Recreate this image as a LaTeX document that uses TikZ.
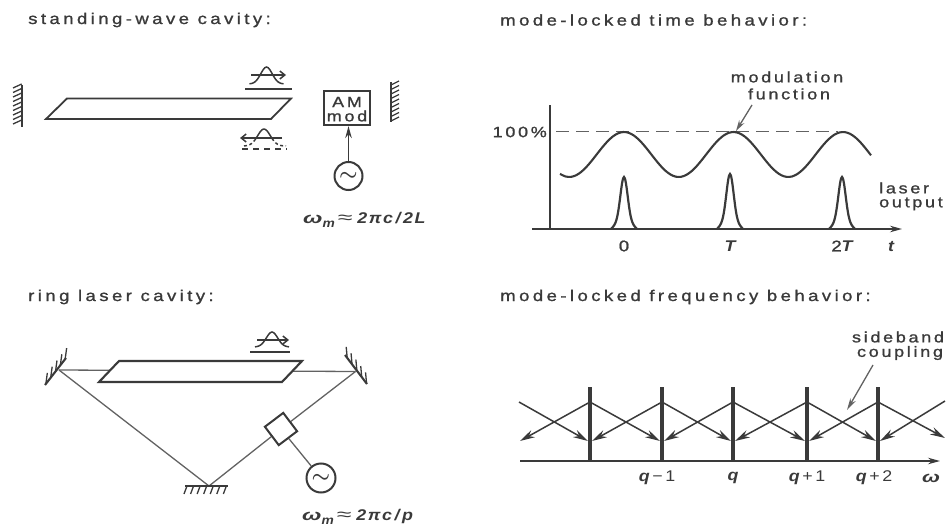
\documentclass[tikz,border=0pt]{standalone}
\usepackage{fontspec}
\usepackage{graphicx}
\usetikzlibrary{arrows.meta,calc}
\setmainfont{Liberation Sans}
\newfontfamily\titlefont[LetterSpace=22,FakeStretch=1.2,FakeBold=1.2]{Liberation Sans}
\newfontfamily\labfont[LetterSpace=18,FakeStretch=1.2,FakeBold=1.2]{Liberation Sans}
\newfontfamily\mathfont[LetterSpace=10,FakeStretch=1.15]{Liberation Sans}
\definecolor{ink}{HTML}{3A3A3A}
\definecolor{thinink}{HTML}{626262}
\newcommand{\omegam}{\scalebox{1.3}[1]{ω}\raisebox{-4pt}{\fontsize{12}{12}\selectfont m}\hspace{3pt}{\mdseries\upshape\scalebox{1.5}[1.1]{≈}}\hspace{5pt}}
\tikzset{
  titletext/.style={anchor=west,inner sep=0pt,font=\titlefont\fontsize{15.5}{16}\selectfont,text=ink},
  labeltext/.style={inner sep=0pt,font=\labfont\fontsize{15}{15}\selectfont,text=ink},
  mathtext/.style={inner sep=0pt,font=\mathfont\bfseries\itshape\fontsize{15.5}{16}\selectfont,text=ink},
  thickline/.style={draw=ink,line width=2.1pt,line join=miter},
  midline/.style={draw=ink,line width=1.5pt},
  thinline/.style={draw=thinink,line width=1.3pt},
  tipped/.style={-{Stealth[length=12pt,width=6.5pt]}},
  smalltip/.style={-{Straight Barb[length=5pt,width=8pt]}},
  hatch/.style={draw=ink,line width=1.3pt},
  srcbox/.style={circle,draw=ink,line width=2pt,minimum size=28pt,inner sep=0pt,font=\boldmath\fontsize{21}{21}\selectfont,text=ink},
}
\begin{document}
\begin{tikzpicture}[x=1pt,y=-1pt]
\useasboundingbox (0,0) rectangle (952,529);
% titles
\node[titletext] (t1) at (28,20) {standing-wave cavity:};
\node[titletext] (t2) at (500,20) {mode-locked time behavior:};
\node[titletext] (t3) at (28,297) {ring laser cavity:};
\node[titletext] (t4) at (500,297) {mode-locked frequency behavior:};

% --- standing wave cavity
\draw[thickline] (21.7,85) -- (21.7,127);
\foreach \y in {88,92.5,...,128} \draw[hatch] (21.7,\y-4) -- (13,\y);
\draw[thickline] (391,82) -- (391,122);
\foreach \y in {85,89.5,...,122} \draw[hatch] (391,\y) -- (399,\y-4);
\draw[thickline,line width=1.8pt] (67,98.5) -- (291,98.5) -- (271,119) -- (46,119) -- cycle;
% upper pulse
\draw[midline] (245,89) -- (292,89);
\draw[midline] plot[smooth,domain=-1:1,samples=21] ({266.5+17*\x},{84-17*exp(-4.5*\x*\x)});
\draw[midline,smalltip] (251,75) -- (286,75);
% lower pulse
\draw[midline,smalltip] (282,138) -- (240,138);
\draw[midline] plot[smooth,domain=-0.45:0.4,samples=11] ({264+20*\x},{146-17*exp(-5*\x*\x)});
\draw[midline,dash pattern=on 3pt off 2.5pt] plot[smooth,domain=-1:-0.45,samples=7] ({264+20*\x},{146-17*exp(-5*\x*\x)});
\draw[midline,dash pattern=on 3pt off 2.5pt] plot[smooth,domain=0.4:1.1,samples=7] ({264+20*\x},{146-17*exp(-5*\x*\x)});
\draw[midline,dash pattern=on 6pt off 5pt] (242,149) -- (287,149);
% AM mod
\node[draw=ink,line width=2.2pt,minimum width=46pt,minimum height=34pt,inner sep=0pt] (mod) at (347,108) {};
\node[labeltext] (am) at (347,102) {AM};
\node[labeltext] (modt) at (347,116) {mod};
\node[srcbox] (osc1) at (348.5,176) {$\sim$};
\draw[midline,tipped] (osc1) -- (osc1 |- mod.south);
\node[mathtext,anchor=west] (f1) at (303,220) {\omegam 2πc\,/\,2L};

% --- time behaviour
\coordinate (yb) at (550,229);
\coordinate (yt) at (550,105);
\coordinate (xl) at (532,229);
\coordinate (xr) at (902,229);
\draw[midline] (yb) -- (yt);
\draw[midline,tipped] (xl) -- (xr);
\node[labeltext,anchor=east] (hundred) at (547,132) {100\%};
\coordinate (dl) at (556,132);
\coordinate (dr) at (838,132);
\draw[draw=thinink,line width=1pt,dash pattern=on 13pt off 7pt] (dl) -- (dr);
\draw[thickline] plot[smooth,domain=560:871,samples=60] (\x,{154.5-22.5*cos(3.2877*(\x-624))});
\foreach \c/\p in {624/177,730/174,842/177}
  \draw[thickline,line width=2.2pt] plot[smooth,domain=-1:1,samples=31] ({\c+13*\x},{229-(229-\p)*(0.88*exp(-6.5*\x*\x)+0.12*(1-\x*\x))});
\node[labeltext,font=\labfont\fontsize{15.5}{16}\selectfont] (l0) at (624,246) {0};
\node[mathtext] (lT) at (730,246) {T};
\node[mathtext] (l2T) at (842,246) {{\upshape\mdseries\labfont 2}T};
\node[mathtext] (lt) at (891,247) {t};
\node[labeltext] (modf1) at (787,77) {modulation};
\node[labeltext] (modf2) at (789,94) {function};
\coordinate (mpk) at (736,131);
\draw[thinline,-{Stealth[length=11pt,width=6pt]}] (752,105) -- (mpk);
\node[labeltext,anchor=west] (las1) at (879,188) {laser};
\node[labeltext,anchor=west] (las2) at (879,204) {output};

% --- ring cavity
\coordinate (mL) at (59,370);
\coordinate (mR) at (355.5,371.5);
\coordinate (mB) at (209,486);
\node[draw=ink,line width=2pt,rotate=37,minimum size=23pt,inner sep=0pt,fill=white] (eom) at (281,429) {};
\node[srcbox,minimum size=29pt] (osc2) at (321,478) {$\sim$};
\draw[thinline] (mL) -- (mR);
\draw[thinline] (mL) -- (mB);
\draw[thinline] (mB) -- (eom);
\draw[thinline] (eom) -- (mR);
\draw[thinline] (eom) -- (osc2);
\draw[thickline,fill=white] (119,361) -- (302,361) -- (282,382) -- (99,382) -- cycle;
\draw[midline] (250,352) -- (290,352);
\draw[midline] plot[smooth,domain=-1:1,samples=21] ({272+17*\x},{347-15*exp(-4.5*\x*\x)});
\draw[midline,smalltip] (257,340) -- (289,340);
% ring mirrors
\draw[thickline] (66,358) -- (45,385);
\foreach \t in {0.04,0.27,0.5,0.73,0.96} \draw[hatch] ($(66,358)!\t!(45,385)$) -- ++(1.5,-11);
\draw[thickline] (345,355) -- (367,384);
\foreach \t in {0.1,0.32,0.54,0.76,0.98} \draw[hatch] ($(345,355)!\t!(367,384)$) -- ++(-1,-11);
\draw[thickline] (185,486) -- (228,486);
\foreach \t in {0,0.16,...,1.0} \draw[hatch] ($(187,486)!\t!(228,486)$) -- ++(-3,8);
\node[mathtext,anchor=west] (f2) at (302,517) {\omegam 2πc\,/\,p};

% --- frequency behaviour
\coordinate (wl) at (520,461);
\coordinate (wr) at (940,461);
\draw[midline,tipped] (wl) -- (wr);
\foreach \n/\x in {a/590,b/662,c/733,d/807,e/878}{
  \coordinate (top\n) at (\x,387);
  \coordinate (pk\n) at (\x,402);
  \coordinate (bot\n) at (\x,461);
  \coordinate (hdl\n) at (\x-2,441);
  \coordinate (hdr\n) at (\x+2,441);
  \draw[draw=ink,line width=3.8pt] (top\n) -- (bot\n);
}
\coordinate (fl1) at (520,441);
\coordinate (fl2) at (519,402);
\coordinate (fr1) at (945,438);
\coordinate (fr2) at (945,401);
\tikzset{sbar/.style={draw=ink,line width=1.5pt,-{Stealth[length=15pt,width=8pt]}}}
\draw[sbar] (pka) -- (fl1);
\draw[sbar] (fl2) -- (hdla);
\draw[sbar] (pka) -- (hdlb);
\draw[sbar] (pkb) -- (hdra);
\draw[sbar] (pkb) -- (hdlc);
\draw[sbar] (pkc) -- (hdrb);
\draw[sbar] (pkc) -- (hdld);
\draw[sbar] (pkd) -- (hdrc);
\draw[sbar] (pkd) -- (hdle);
\draw[sbar] (pke) -- (hdrd);
\draw[sbar] (pke) -- (fr1);
\draw[sbar] (fr2) -- (hdre);
\node[mathtext] (q1) at (657,478) {q\,{\upshape\mdseries −\,1}};
\node[mathtext] (q2) at (733,478) {q};
\node[mathtext] (q3) at (807,478) {q\,{\upshape\mdseries +\,1}};
\node[mathtext] (q4) at (874,478) {q\,{\upshape\mdseries +\,2}};
\node[mathtext] (w) at (931,478) {\scalebox{1.2}[1]{ω}};
\node[labeltext] (sb1) at (898,337) {sideband};
\node[labeltext] (sb2) at (900,353) {coupling};
\coordinate (sbt) at (847,410);
\draw[thinline,-{Stealth[length=12pt,width=6pt]}] (873,365) -- (sbt);
\end{tikzpicture}
\end{document}
